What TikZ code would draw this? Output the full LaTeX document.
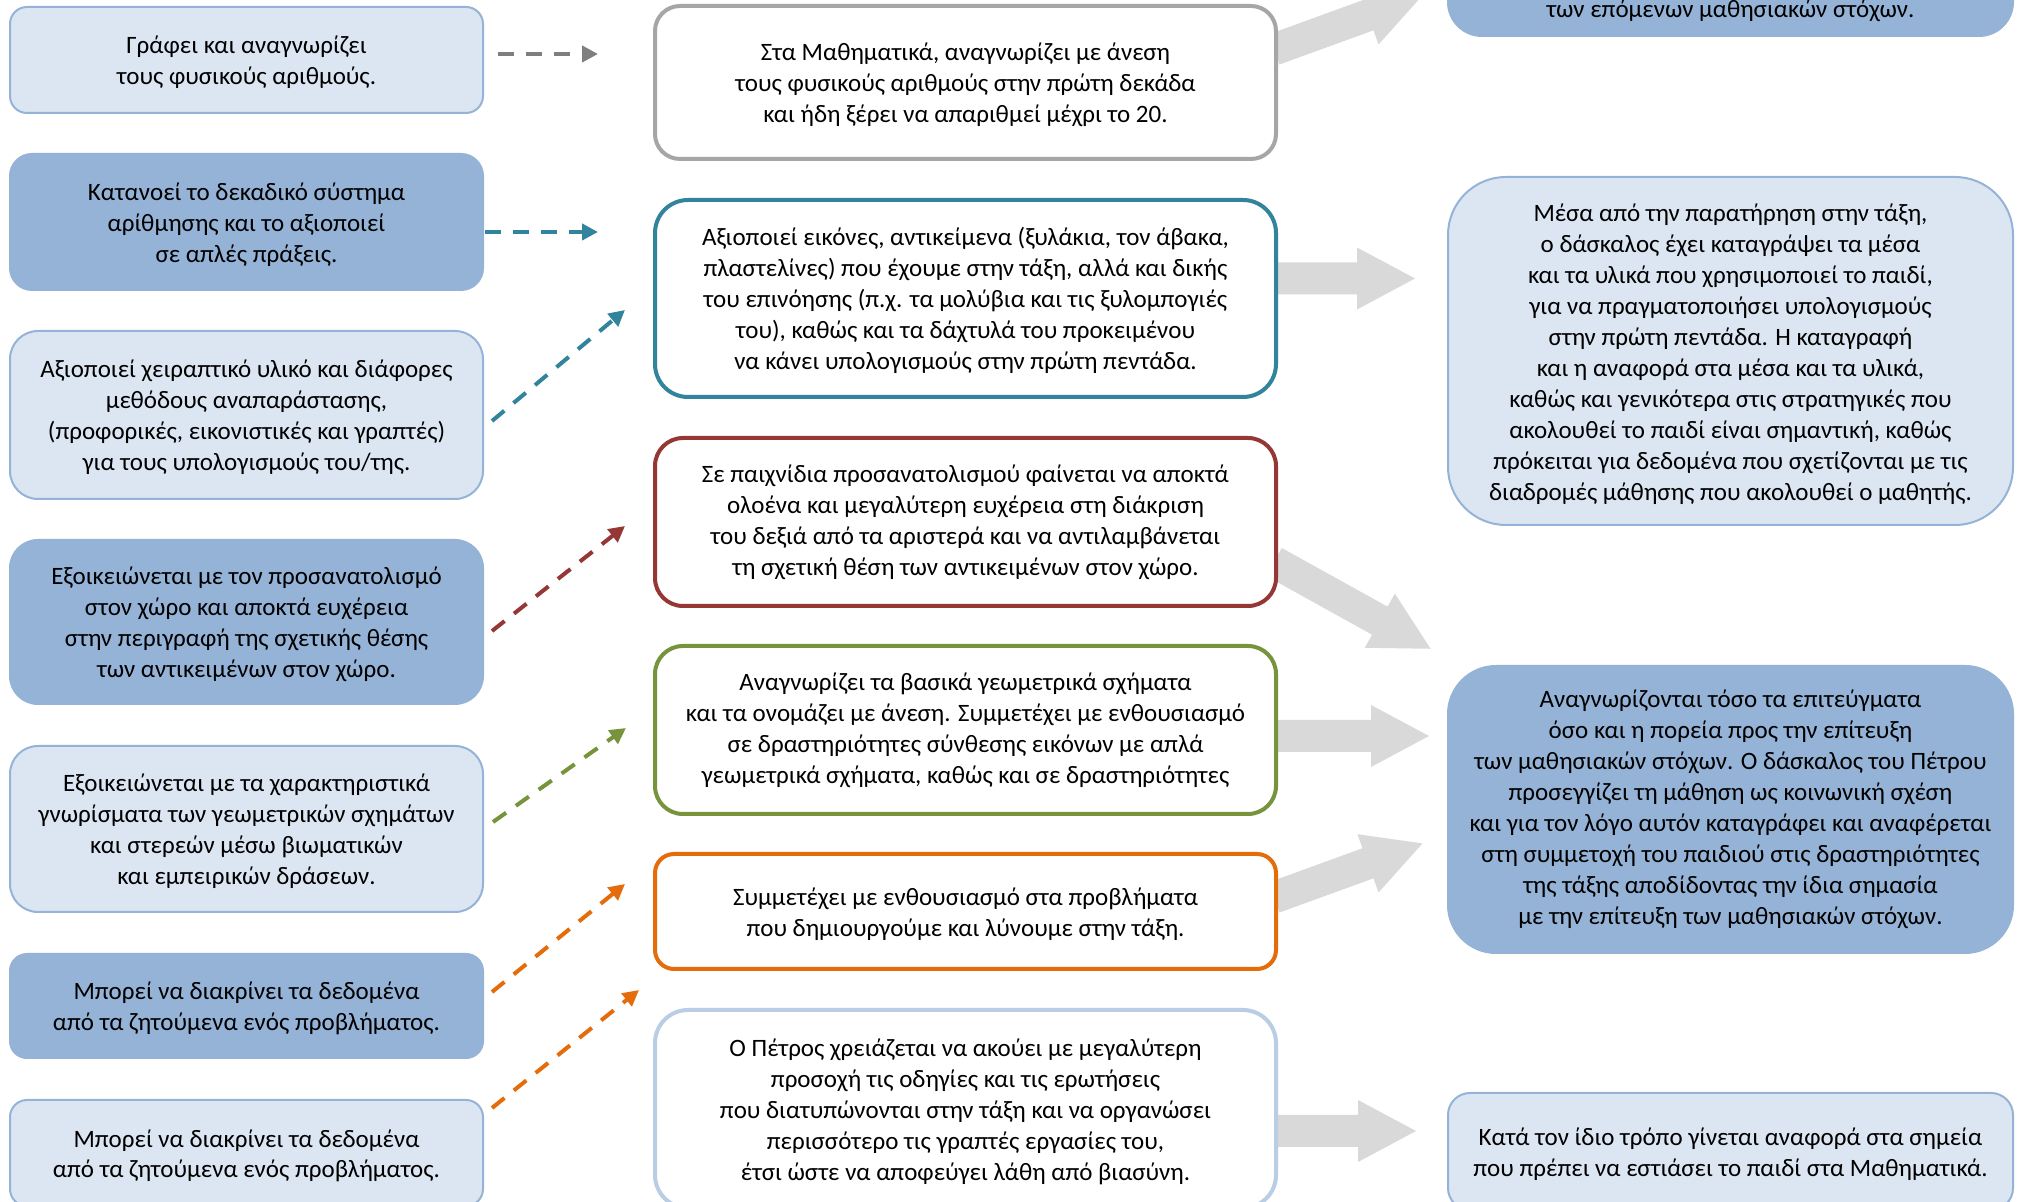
\documentclass[tikz,border=0pt]{standalone}
\usepackage{fontspec}
\setmainfont{Carlito}
\usetikzlibrary{arrows.meta,calc,backgrounds}
\definecolor{lfill}{HTML}{DCE6F2}
\definecolor{lline}{HTML}{95B3D7}
\definecolor{dfill}{HTML}{95B3D7}
\definecolor{cgray}{HTML}{A6A6A6}
\definecolor{cgrayd}{HTML}{7F7F7F}
\definecolor{cteal}{HTML}{31849B}
\definecolor{cred}{HTML}{953735}
\definecolor{cgreen}{HTML}{77933C}
\definecolor{corange}{HTML}{E46C0A}
\definecolor{cpale}{HTML}{B9CDE5}
\definecolor{carrow}{HTML}{D9D9D9}
\newcommand\Ts{\rule{0pt}{13pt}}
\newcommand\Tss{\rule{0pt}{14pt}}
\newcommand\Bs{\rule[-3.5pt]{0pt}{3.5pt}}
\newcommand\blockarr[3]{%
  \begin{scope}[on background layer, shift={#1}, rotate=#2]
    \fill[carrow] (0,16) -- ({#3-58},16) -- ({#3-58},31) -- (#3,0) -- ({#3-58},-31) -- ({#3-58},-16) -- (0,-16) -- cycle;
  \end{scope}}
\begin{document}
\begin{tikzpicture}[x=0.5pt,y=-0.5pt,
  txt/.style={font=\fontsize{12.5}{15.5}\selectfont, align=center, inner sep=0pt, text=black},
  lbox/.style={txt, fill=lfill, draw=lline, line width=1pt, minimum width=236.5pt},
  dbox/.style={txt, fill=dfill, draw=dfill, line width=1pt, minimum width=236.5pt},
  mbox/.style={txt, fill=white, line width=2pt, minimum width=310.5pt},
  rlbox/.style={txt, fill=lfill, draw=lline, line width=1pt, minimum width=282.5pt},
  rdbox/.style={txt, fill=dfill, draw=dfill, line width=1pt, minimum width=282.5pt},
  dconn/.style={line width=2pt, dash pattern=on 8pt off 6pt, -{Triangle[length=8pt,width=8pt]}}
]
\useasboundingbox (0,0) rectangle (2026,1202);
\begin{scope}[on background layer]
  \fill[white] (0,0) rectangle (2026,1202);
\end{scope}

% left column
\node[lbox, minimum height=53pt, rounded corners=8.5pt] (L1) at (246.5,60) {\Ts Γράφει και αναγνωρίζει\\τους φυσικούς αριθμούς.\Bs};
\node[dbox, minimum height=68pt, rounded corners=11pt] (L2) at (246.5,222) {\Ts Κατανοεί το δεκαδικό σύστημα\\αρίθμησης και το αξιοποιεί\\σε απλές πράξεις.\Bs};
\node[lbox, minimum height=84pt, rounded corners=14pt] (L3) at (246.5,415) {\Ts Αξιοποιεί χειραπτικό υλικό και διάφορες\\μεθόδους αναπαράστασης,\\(προφορικές, εικονιστικές και γραπτές)\\για τους υπολογισμούς του/της.\Bs};
\node[dbox, minimum height=82pt, rounded corners=14pt] (L4) at (246.5,622) {\Ts Εξοικειώνεται με τον προσανατολισμό\\στον χώρο και αποκτά ευχέρεια\\στην περιγραφή της σχετικής θέσης\\των αντικειμένων στον χώρο.\Bs};
\node[lbox, minimum height=83pt, rounded corners=14pt] (L5) at (246.5,829) {\Ts Εξοικειώνεται με τα χαρακτηριστικά\\γνωρίσματα των γεωμετρικών σχημάτων\\και στερεών μέσω βιωματικών\\και εμπειρικών δράσεων.\Bs};
\node[dbox, minimum height=52pt, rounded corners=8.5pt] (L6) at (246.5,1006) {\Ts Μπορεί να διακρίνει τα δεδομένα\\από τα ζητούμενα ενός προβλήματος.\Bs};
\node[lbox, minimum height=53pt, rounded corners=8.5pt] (L7) at (246.5,1153) {\Ts Μπορεί να διακρίνει τα δεδομένα\\από τα ζητούμενα ενός προβλήματος.\Bs};

% middle column
\node[mbox, draw=cgray, minimum height=76.5pt, rounded corners=12.5pt] (M1) at (965.5,82.5) {\Ts Στα Μαθηματικά, αναγνωρίζει με άνεση\\τους φυσικούς αριθμούς στην πρώτη δεκάδα\\και ήδη ξέρει να απαριθμεί μέχρι το 20.\Bs};
\node[mbox, draw=cteal, minimum height=98.5pt, rounded corners=16.5pt] (M2) at (965.5,298.5) {\Ts Αξιοποιεί εικόνες, αντικείμενα (ξυλάκια, τον άβακα,\\πλαστελίνες) που έχουμε στην τάξη, αλλά και δικής\\του επινόησης (π.χ. τα μολύβια και τις ξυλομπογιές\\του), καθώς και τα δάχτυλά του προκειμένου\\να κάνει υπολογισμούς στην πρώτη πεντάδα.\Bs};
\node[mbox, draw=cred, minimum height=84pt, rounded corners=14pt] (M3) at (965.5,522) {Σε παιχνίδια προσανατολισμού φαίνεται να αποκτά\\ολοένα και μεγαλύτερη ευχέρεια στη διάκριση\\του δεξιά από τα αριστερά και να αντιλαμβάνεται\\τη σχετική θέση των αντικειμένων στον χώρο.};
\node[mbox, draw=cgreen, minimum height=84pt, rounded corners=14pt] (M4) at (965.5,730) {Αναγνωρίζει τα βασικά γεωμετρικά σχήματα\\και τα ονομάζει με άνεση. Συμμετέχει με ενθουσιασμό\\σε δραστηριότητες σύνθεσης εικόνων με απλά\\γεωμετρικά σχήματα, καθώς και σε δραστηριότητες};
\node[mbox, draw=corange, minimum height=57.5pt, rounded corners=9.5pt] (M5) at (965.5,911.5) {\Ts Συμμετέχει με ενθουσιασμό στα προβλήματα\\που δημιουργούμε και λύνουμε στην τάξη.\Bs};
\node[mbox, draw=cpale, minimum height=99pt, rounded corners=16.5pt] (M6) at (965.5,1109) {\Ts Ο Πέτρος χρειάζεται να ακούει με μεγαλύτερη\\προσοχή τις οδηγίες και τις ερωτήσεις\\που διατυπώνονται στην τάξη και να οργανώσει\\περισσότερο τις γραπτές εργασίες του,\\έτσι ώστε να αποφεύγει λάθη από βιασύνη.\Bs};

% right column
\node[rdbox, minimum height=105pt, rounded corners=17pt] (R1) at (1730.5,-69) {};
\node[txt, anchor=base] (R1t) at (1730.5,18) {των επόμενων μαθησιακών στόχων.};
\node[rlbox, minimum height=174pt, rounded corners=29pt] (R2) at (1730.5,351) {\Tss Μέσα από την παρατήρηση στην τάξη,\\ο δάσκαλος έχει καταγράψει τα μέσα\\και τα υλικά που χρησιμοποιεί το παιδί,\\για να πραγματοποιήσει υπολογισμούς\\στην πρώτη πεντάδα. Η καταγραφή\\και η αναφορά στα μέσα και τα υλικά,\\καθώς και γενικότερα στις στρατηγικές που\\ακολουθεί το παιδί είναι σημαντική, καθώς\\πρόκειται για δεδομένα που σχετίζονται με τις\\διαδρομές μάθησης που ακολουθεί ο μαθητής.\Bs};
\node[rdbox, minimum height=143.5pt, rounded corners=24pt] (R3) at (1730.5,809.5) {Αναγνωρίζονται τόσο τα επιτεύγματα\\όσο και η πορεία προς την επίτευξη\\των μαθησιακών στόχων. Ο δάσκαλος του Πέτρου\\προσεγγίζει τη μάθηση ως κοινωνική σχέση\\και για τον λόγο αυτόν καταγράφει και αναφέρεται\\στη συμμετοχή του παιδιού στις δραστηριότητες\\της τάξης αποδίδοντας την ίδια σημασία\\με την επίτευξη των μαθησιακών στόχων.};
\node[rlbox, minimum height=58.5pt, rounded corners=11pt] (R4) at (1730.5,1151.5) {\Ts Κατά τον ίδιο τρόπο γίνεται αναφορά στα σημεία\\που πρέπει να εστιάσει το παιδί στα Μαθηματικά.\Bs};

% dashed connectors
\coordinate (s1) at ($(L1.east)+(14,-6)$);  \coordinate (t1) at (598,54);
\coordinate (s2) at ($(L2.east)+(1,10)$);   \coordinate (t2) at (598,232);
\coordinate (s3) at ($(L3.east)+(8,6)$);    \coordinate (t3) at (625,310);
\coordinate (s4) at ($(L4.east)+(8,9)$);    \coordinate (t4) at (625,526);
\coordinate (s5) at ($(L5.east)+(9,-7)$);   \coordinate (t5) at (626,728);
\coordinate (s6) at ($(L6.east)+(8,-14)$);  \coordinate (t6) at (625,884);
\coordinate (s7) at ($(L7.east)+(8,-45)$);  \coordinate (t7) at (639,990);
\draw[dconn, cgrayd] (s1) -- (t1);
\draw[dconn, cteal] (s2) -- (t2);
\draw[dconn, cteal] (s3) -- (t3);
\draw[dconn, cred] (s4) -- (t4);
\draw[dconn, cgreen] (s5) -- (t5);
\draw[dconn, corange] (s6) -- (t6);
\draw[dconn, corange] (s7) -- (t7);

% block arrows
\blockarr{($(M1.east)+(-4,-33)$)}{20}{158}
\blockarr{($(M2.east)+(-4,-20)$)}{0}{141}
\blockarr{($(M3.east)+(-4,40)$)}{-29}{179}
\blockarr{($(M4.east)+(-4,6)$)}{0}{155}
\blockarr{($(M5.east)+(-4,-14)$)}{20}{158}
\blockarr{($(M6.east)+(-4,22)$)}{0}{142}
\end{tikzpicture}
\end{document}
